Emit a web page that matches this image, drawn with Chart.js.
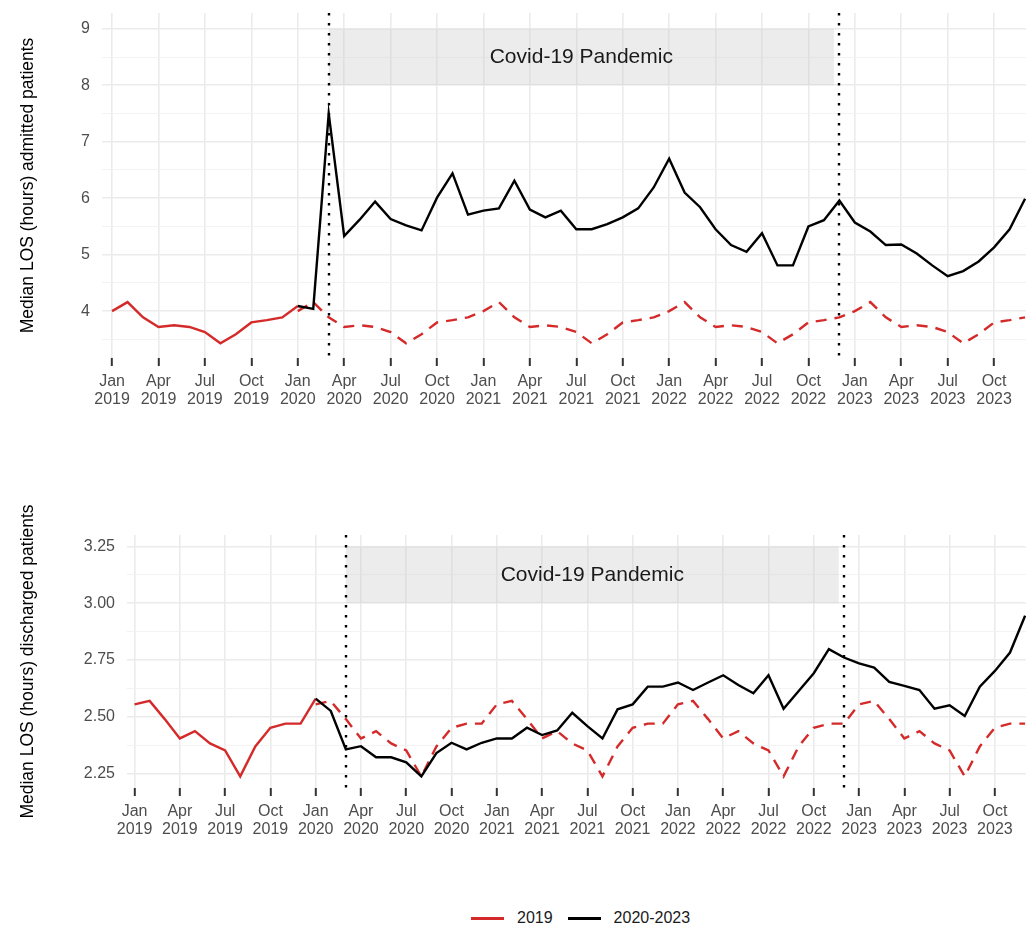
<!DOCTYPE html>
<html>
<head>
<meta charset="utf-8">
<script src="https://cdn.jsdelivr.net/npm/chart.js@4.4.1/dist/chart.umd.min.js"></script>
<style>
  body { margin: 0; background: #fff; width: 1026px; height: 927px; position: relative; overflow: hidden;
         font-family: "Liberation Sans", Arial, sans-serif; }
  canvas { position: absolute; left: 0; }
  #admitted { top: 0; }
  #discharged { top: 480px; }
  .legend { position: absolute; left: 471px; top: 908px; display: flex; align-items: center;
            font-size: 16px; color: #1a1a1a; line-height: 20px; }
  .legend .sw { display: inline-block; width: 33px; height: 3px; margin-right: 13px; }
  .legend .lbl { margin-right: 15px; }
</style>
</head>
<body>
<canvas id="admitted" width="1026" height="420"></canvas>
<canvas id="discharged" width="1026" height="370"></canvas>
<div class="legend">
  <span class="sw" style="background:#d42a2a"></span><span class="lbl">2019</span>
  <span class="sw" style="background:#000"></span><span>2020-2023</span>
</div>
<script>
// months are counted from Jan 2019 (0) to Dec 2023 (59)
const tickMonths = ['Jan', 'Apr', 'Jul', 'Oct'];
const tickYears = ['2019', '2020', '2021', '2022', '2023'];
const xTickPositions = [0, 3, 6, 9, 12, 15, 18, 21, 24, 27, 30, 33, 36, 39, 42, 45, 48, 51, 54, 57];
const xTickLabels = tickYears.flatMap((yr) => tickMonths.map((m) => [m, yr]));

const pandemicStart = 14;   // Mar 2020
const pandemicEnd = 47;     // Dec 2022
const bandEnd = 46.65;

// median LOS (hours), admitted patients
const admitted2019 = [4.00, 4.16, 3.89, 3.72, 3.75, 3.72, 3.63, 3.43, 3.59, 3.80, 3.84, 3.89];
const admitted2020to2023 = [
  4.09, 4.04, 7.50, 5.33, 5.62, 5.94, 5.63, 5.52, 5.43, 6.01, 6.44, 5.71,
  5.78, 5.82, 6.31, 5.80, 5.66, 5.78, 5.45, 5.45, 5.54, 5.66, 5.82, 6.19,
  6.70, 6.10, 5.84, 5.45, 5.17, 5.05, 5.38, 4.81, 4.81, 5.50, 5.61, 5.96,
  5.57, 5.41, 5.17, 5.18, 5.02, 4.81, 4.62, 4.71, 4.88, 5.13, 5.45, 5.99,
];
const admittedMajor = [4, 5, 6, 7, 8, 9];
const admittedMinor = [3.5, 4.5, 5.5, 6.5, 7.5, 8.5];

// median LOS (hours), discharged patients
const discharged2019 = [2.555, 2.570, 2.490, 2.405, 2.437, 2.383, 2.352, 2.238, 2.370, 2.452, 2.470, 2.470];
const discharged2020to2023 = [
  2.580, 2.526, 2.357, 2.371, 2.322, 2.322, 2.300, 2.238, 2.341, 2.386, 2.357, 2.386,
  2.405, 2.405, 2.452, 2.420, 2.440, 2.518, 2.459, 2.405, 2.533, 2.555, 2.633, 2.633,
  2.651, 2.618, 2.651, 2.683, 2.640, 2.604, 2.683, 2.536, 2.614, 2.692, 2.798, 2.761,
  2.735, 2.717, 2.654, 2.636, 2.618, 2.536, 2.551, 2.504, 2.633, 2.702, 2.783, 2.945,
];
const dischargedMajor = [2.25, 2.5, 2.75, 3.0, 3.25];
const dischargedMinor = [2.375, 2.625, 2.875, 3.125];

const RED = '#d42a2a';
const FONT = '"Liberation Sans", Arial, sans-serif';

function buildSeries(base, later) {
  // 2019 drawn solid up to Jan 2020, then repeated as a dashed reference each year
  const solid = base.map((v, i) => ({ x: i, y: v })).concat({ x: 12, y: later[0] });
  const dashed = [];
  for (let m = 12; m < 60; m++) dashed.push({ x: m, y: base[(m - 12) % 12] });
  const current = later.map((v, i) => ({ x: 12 + i, y: v }));
  return { solid, dashed, current };
}

const pandemicBand = {
  id: 'pandemicBand',
  beforeDatasetsDraw(chart, args, opts) {
    const { ctx, scales: { x, y } } = chart;
    const x0 = x.getPixelForValue(pandemicStart);
    const x1 = x.getPixelForValue(bandEnd);
    const y0 = y.getPixelForValue(opts.top);
    const y1 = y.getPixelForValue(opts.bottom);
    ctx.save();
    ctx.fillStyle = 'rgba(200,200,200,0.35)';
    ctx.fillRect(x0, y0, x1 - x0, y1 - y0);
    ctx.fillStyle = '#1a1a1a';
    ctx.font = `21px ${FONT}`;
    ctx.textAlign = 'center';
    ctx.textBaseline = 'middle';
    ctx.fillText('Covid-19 Pandemic', (x0 + x1) / 2, (y0 + y1) / 2);
    ctx.restore();
  },
  afterDatasetsDraw(chart) {
    const { ctx, chartArea: a, scales: { x } } = chart;
    ctx.save();
    ctx.strokeStyle = '#000';
    ctx.lineWidth = 2.4;
    ctx.setLineDash([2.4, 7.6]);
    [pandemicStart, pandemicEnd].forEach((m) => {
      const px = Math.round(x.getPixelForValue(m));
      ctx.beginPath();
      ctx.moveTo(px, a.top);
      ctx.lineTo(px, a.bottom + 2);
      ctx.stroke();
    });
    ctx.restore();
  },
};

function makeChart(id, opt) {
  const s = buildSeries(opt.base, opt.later);
  const major = opt.major;
  const isMajor = (v) => major.some((m) => Math.abs(m - v) < 1e-6);
  return new Chart(document.getElementById(id), {
    type: 'line',
    data: {
      datasets: [
        { data: s.current, borderColor: '#000', borderWidth: 2.4 },
        { data: s.solid, borderColor: RED, borderWidth: 2.4 },
        { data: s.dashed, borderColor: RED, borderWidth: 2.4, borderDash: [11, 8] },
      ],
    },
    options: {
      responsive: false,
      animation: false,
      layout: { padding: { top: opt.padTop, right: 0, left: 0, bottom: 0 } },
      elements: { point: { radius: 0 }, line: { tension: 0, borderCapStyle: 'butt' } },
      plugins: {
        legend: { display: false },
        tooltip: { enabled: false },
        pandemicBand: { top: opt.bandTop, bottom: opt.bandBottom },
      },
      scales: {
        x: {
          type: 'linear',
          min: opt.xMin,
          max: 59.06,
          afterBuildTicks: (sc) => { sc.ticks = xTickPositions.map((v) => ({ value: v })); },
          afterFit: (sc) => { sc.height = 62; sc.paddingLeft = 0; sc.paddingRight = 0; },
          grid: { color: '#ebebeb', lineWidth: 1.6, tickColor: '#333', tickWidth: 2, tickLength: 8 },
          border: { display: false },
          ticks: {
            autoSkip: false, maxRotation: 0, padding: 7, color: '#4d4d4d',
            font: { family: FONT, size: 16, lineHeight: 1.1 },
            callback: (v, i) => xTickLabels[i],
          },
        },
        y: {
          min: opt.yMin,
          max: opt.yMax,
          afterBuildTicks: (sc) => {
            sc.ticks = major.concat(opt.minor).sort((a, b) => a - b).map((v) => ({ value: v }));
          },
          afterFit: (sc) => { sc.width = opt.yWidth; sc.paddingTop = 0; sc.paddingBottom = 0; },
          grid: {
            drawTicks: false,
            color: (c) => (isMajor(c.tick.value) ? '#ebebeb' : '#f2f2f2'),
            lineWidth: (c) => (isMajor(c.tick.value) ? 1.6 : 0.9),
          },
          border: { display: false },
          ticks: {
            padding: 12, color: '#4d4d4d',
            font: { family: FONT, size: 16 },
            callback: (v) => (isMajor(v) ? opt.fmt(v) : ''),
          },
          title: {
            display: true, text: opt.title, color: '#000',
            font: { family: FONT, size: 17.5, lineHeight: 1.2 },
            padding: { top: 17.5, bottom: 0 },
          },
        },
      },
    },
    plugins: [pandemicBand],
  });
}

makeChart('admitted', {
  base: admitted2019, later: admitted2020to2023,
  major: admittedMajor, minor: admittedMinor,
  yMin: 3.17, yMax: 9.28, xMin: -0.65, yWidth: 102, padTop: 13,
  bandTop: 9, bandBottom: 8,
  fmt: (v) => String(v),
  title: 'Median LOS (hours) admitted patients',
});

makeChart('discharged', {
  base: discharged2019, later: discharged2020to2023,
  major: dischargedMajor, minor: dischargedMinor,
  yMin: 2.187, yMax: 3.30, xMin: -0.5, yWidth: 127, padTop: 55,
  bandTop: 3.25, bandBottom: 3.0,
  fmt: (v) => v.toFixed(2),
  title: 'Median LOS (hours) discharged patients',
});
</script>
</body>
</html>
